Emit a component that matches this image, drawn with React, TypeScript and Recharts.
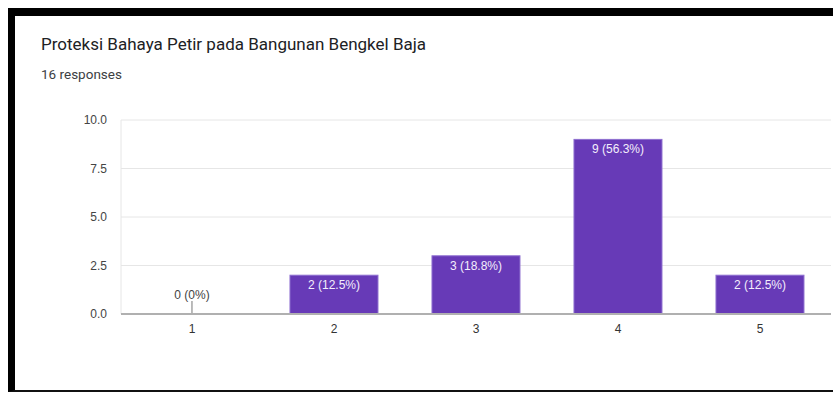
import React from 'react';
import { BarChart, Bar, XAxis, YAxis, CartesianGrid, LabelList } from 'recharts';

const categories = ['1', '2', '3', '4', '5'];
const counts = [0, 2, 3, 9, 2];
const percents = ['0%', '12.5%', '18.8%', '56.3%', '12.5%'];
const yTicks = [0, 2.5, 5, 7.5, 10];

const data = categories.map((c, i) => ({ name: c, count: counts[i], pct: percents[i] }));

const BAR_COLOR = '#673ab7';
const chartFont = '"Liberation Sans", Arial, sans-serif';

// zero-height bars get a dark baseline segment and a little stem, like Google Forms
const BarShape = (props: any) => {
    const { x, y, width, height } = props;
    if (!height) {
        const cx = x + width / 2;
        return (
            <g>
                <line x1={x} x2={x + width} y1={y} y2={y} stroke="#8a8a8a" strokeWidth={2} />
                <line x1={cx} x2={cx} y1={y - 13} y2={y} stroke="#777" strokeWidth={1} />
            </g>
        );
    }
    return <rect x={x} y={y} width={width} height={height} fill={BAR_COLOR} stroke="#8e6fd0" strokeWidth={1} />;
};

const renderLabel = (props: any) => {
    const { x, y, width, value, index } = props;
    const text = `${value} (${percents[index]})`;
    if (!value) {
        return (
            <text x={x + width / 2} y={y - 15} fill="#444" textAnchor="middle" fontSize={12} fontFamily={chartFont}>
                {text}
            </text>
        );
    }
    return (
        <text x={x + width / 2} y={y + 14} fill="#f3eefc" textAnchor="middle" fontSize={12} fontFamily={chartFont}>
            {text}
        </text>
    );
};

export default function App() {
    return (
        <div style={{ position: 'relative', width: 833, height: 393, overflow: 'hidden', background: '#fff' }}>
            <style>{'body{margin:0}'}</style>
            <div
                style={{
                    position: 'absolute',
                    left: 8,
                    top: 8,
                    width: 818,
                    height: 374,
                    borderTop: '8px solid #000',
                    borderLeft: '7px solid #000',
                    borderBottom: '2px solid #111',
                    background: '#fff',
                    overflow: 'hidden',
                }}
            >
                <div
                    style={{
                        position: 'absolute',
                        left: 26,
                        top: 18,
                        fontFamily: 'Roboto, sans-serif',
                        fontSize: 17,
                        color: '#202124',
                        whiteSpace: 'nowrap',
                    }}
                >
                    Proteksi Bahaya Petir pada Bangunan Bengkel Baja
                </div>
                <div
                    style={{
                        position: 'absolute',
                        left: 26,
                        top: 50,
                        fontFamily: 'Roboto, sans-serif',
                        fontSize: 13.5,
                        color: '#3c4043',
                        whiteSpace: 'nowrap',
                    }}
                >
                    16 responses
                </div>
                <div style={{ position: 'absolute', left: 0, top: 0 }}>
                    <BarChart
                        width={818}
                        height={374}
                        data={data}
                        margin={{ top: 104, right: 2, left: 46, bottom: 46 }}
                        barCategoryGap="19%"
                    >
                        <CartesianGrid vertical={false} stroke="#e6e6e6" />
                        <YAxis
                            width={60}
                            domain={[0, 10]}
                            ticks={yTicks}
                            tickFormatter={(v: number) => v.toFixed(1)}
                            axisLine={{ stroke: '#e6e6e6' }}
                            tickLine={false}
                            tickMargin={8}
                            tick={{ fill: '#444', fontSize: 12, fontFamily: chartFont }}
                        />
                        <XAxis
                            dataKey="name"
                            height={30}
                            axisLine={{ stroke: '#b0b0b0', strokeWidth: 2 }}
                            tickLine={false}
                            tickMargin={4}
                            tick={{ fill: '#333', fontSize: 12, fontFamily: chartFont }}
                        />
                        <Bar dataKey="count" shape={BarShape} isAnimationActive={false}>
                            <LabelList dataKey="count" content={renderLabel} />
                        </Bar>
                    </BarChart>
                </div>
            </div>
        </div>
    );
}
